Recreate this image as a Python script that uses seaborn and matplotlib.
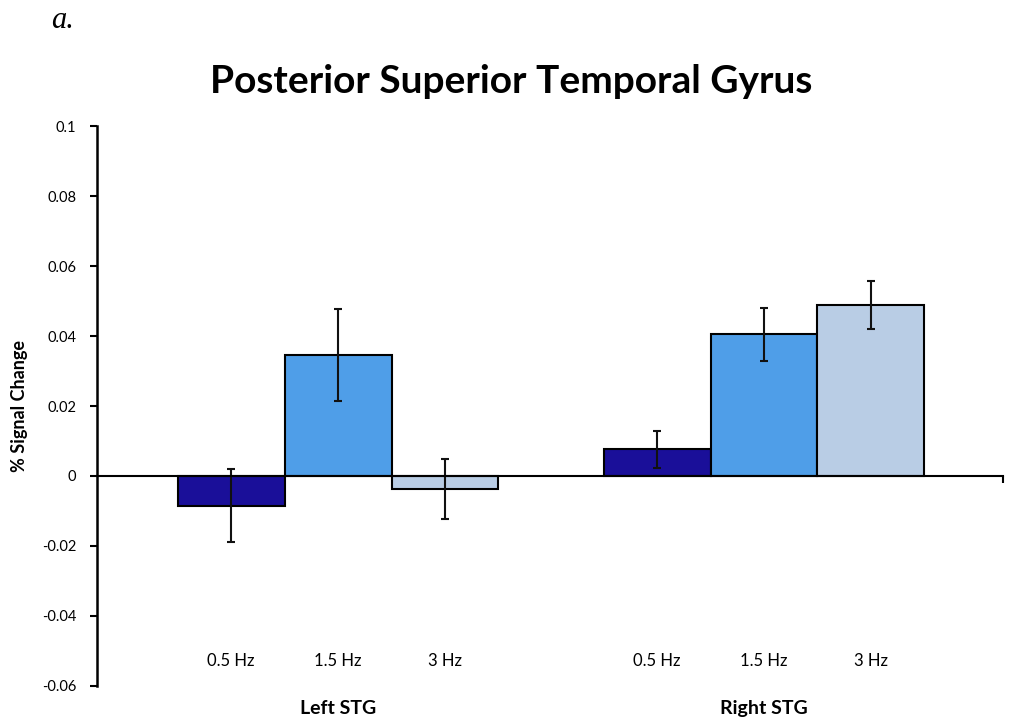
import numpy as np
import pandas as pd
import seaborn as sns
import matplotlib.pyplot as plt
import matplotlib.transforms as mtransforms

# values
regions = ["Left STG", "Right STG"]
freqs = ["0.5 Hz", "1.5 Hz", "3 Hz"]
left_vals = [-0.0085, 0.0345, -0.0037]
left_err = [0.0104, 0.0131, 0.0086]
right_vals = [0.0076, 0.0405, 0.0488]
right_err = [0.0053, 0.0076, 0.0069]
colors = ["#1a0f99", "#4f9ee8", "#b9cde5"]

df = pd.DataFrame({
    "region": np.repeat(regions, len(freqs)),
    "freq": freqs * len(regions),
    "value": left_vals + right_vals,
    "err": left_err + right_err,
})

sns.set_style("white")
plt.rcParams['font.family'] = ['Lato', 'DejaVu Sans']
plt.rcParams['text.color'] = 'black'
plt.rcParams['axes.labelcolor'] = 'black'
plt.rcParams['xtick.color'] = 'black'
plt.rcParams['ytick.color'] = 'black'
plt.rcParams['axes.edgecolor'] = 'black'

fig = plt.figure(figsize=(10.13, 7.25), dpi=100)
ax = fig.add_axes([0.0958, 0.0538, 0.8942, 0.7724])

sns.barplot(data=df, x="region", y="value", hue="freq", palette=colors,
            saturation=1, width=0.753, edgecolor="black", linewidth=1.5,
            legend=False, errorbar=None, ax=ax)

# error bars on the bar centres (sorted left to right = region-major order)
bars = sorted(ax.patches, key=lambda p: p.get_x())
xs = [p.get_x() + p.get_width() / 2 for p in bars]
ax.errorbar(xs, df["value"], yerr=df["err"], fmt="none", ecolor="#111111",
            elinewidth=1.5, capsize=3, capthick=1.5)

ax.set_xlim(-0.566, 1.561)
ax.set_ylim(-0.06, 0.1)
ax.set_yticks(np.arange(-0.06, 0.1001, 0.02))
ax.set_yticklabels(["-0.06", "-0.04", "-0.02", "0", "0.02", "0.04", "0.06", "0.08", "0.1"])
ax.tick_params(axis="y", direction="out", length=5, width=1.5, labelsize=10.5, pad=10, left=True)

for s in ["top", "right"]:
    ax.spines[s].set_visible(False)
ax.spines["left"].set_linewidth(1.8)
ax.spines["bottom"].set_position(("data", 0))
ax.spines["bottom"].set_linewidth(1.5)
ax.set_xticks([1.561])
ax.set_xticklabels([""])
ax.tick_params(axis="x", direction="out", length=5, width=1.5, bottom=True)

ax.set_xlabel("")
ax.set_ylabel("% Signal Change", fontsize=13, fontweight="bold", labelpad=10)

trans = mtransforms.blended_transform_factory(ax.transData, ax.transAxes)
for i, reg in enumerate(regions):
    for x, f in zip(xs[i * 3:(i + 1) * 3], freqs):
        ax.text(x, 0.045, f, transform=trans, ha="center", va="center", fontsize=12)
    ax.text(i, -0.04, reg, transform=trans, ha="center", va="center",
            fontsize=14, fontweight="bold")

fig.text(0.505, 0.888, "Posterior Superior Temporal Gyrus", ha="center", va="center",
         fontsize=28, fontweight="bold")
fig.text(0.05, 0.972, "a.", ha="left", va="center", fontsize=22, style="italic",
         family="Liberation Serif")

fig.savefig("out.png", dpi=100)
